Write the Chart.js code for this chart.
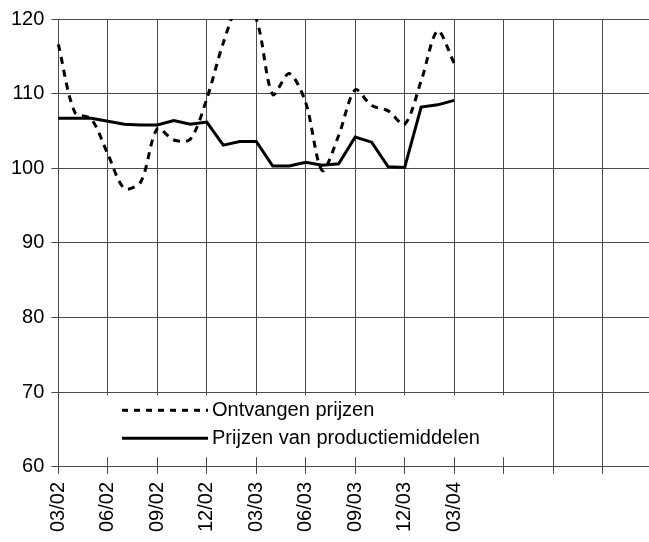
<!DOCTYPE html>
<html>
<head>
<meta charset="utf-8">
<script src="https://cdn.jsdelivr.net/npm/chart.js@4"></script>
<style>
  html, body { margin: 0; padding: 0; background: #fff; overflow: hidden; }
  #wrap { width: 649px; height: 542px; overflow: hidden; }
</style>
</head>
<body>
<div id="wrap"><canvas id="chart" width="684" height="542"></canvas></div>
<script>
/* =========================
   DATA
========================= */
const months = ["03/02","04/02","05/02","06/02","07/02","08/02","09/02","10/02","11/02","12/02",
  "01/03","02/03","03/03","04/03","05/03","06/03","07/03","08/03","09/03","10/03","11/03","12/03",
  "01/04","02/04","03/04","04/04","05/04","06/04","07/04","08/04","09/04","10/04","11/04","12/04",
  "01/05","02/05","03/05"];

const tickLabels = ["03/02","06/02","09/02","12/02","03/03","06/03","09/03","12/03","03/04"];

const ontvangen = [116.6,107.5,106.6,101.9,97.3,98.2,105.3,103.8,103.9,109.3,
  116.8,122,120,109.9,112.7,108.8,99.7,104.4,110.5,108.4,107.7,105.9,111.7,118.4,114.1];

const productiemiddelen = [106.7,106.7,106.7,106.3,105.9,105.8,105.8,106.4,105.9,106.2,
  103.1,103.6,103.6,100.3,100.3,100.8,100.4,100.6,104.2,103.5,100.2,100.1,108.2,108.5,109.1];

const seriesNames = ["Ontvangen prijzen", "Prijzen van productiemiddelen"];

/* =========================
   LEGEND IN PLOT
========================= */
const insideLegend = {
  id: "insideLegend",
  afterDatasetsDraw(chart) {
    const ctx = chart.ctx;
    const y70 = chart.scales.y.getPixelForValue(70);
    ctx.save();
    ctx.fillStyle = "#fff";
    ctx.fillRect(96, y70 + 3, 424, 62);
    ctx.strokeStyle = "#000";
    ctx.lineWidth = 3;

    ctx.setLineDash([6, 6]);
    ctx.beginPath();
    ctx.moveTo(122, y70 + 18);
    ctx.lineTo(208, y70 + 18);
    ctx.stroke();

    ctx.setLineDash([]);
    ctx.beginPath();
    ctx.moveTo(122, y70 + 46);
    ctx.lineTo(208, y70 + 46);
    ctx.stroke();

    ctx.fillStyle = "#000";
    ctx.font = "20px 'Liberation Sans', Arial, sans-serif";
    ctx.textBaseline = "middle";
    ctx.fillText(seriesNames[0], 212, y70 + 18);
    ctx.fillText(seriesNames[1], 212, y70 + 46);
    ctx.restore();
  }
};

/* =========================
   CHART
========================= */
const gridColor = "#4a4a4a";
const quarterly = c => (c.index % 3 === 0 ? gridColor : "rgba(0,0,0,0)");

new Chart(document.getElementById("chart"), {
  type: "line",
  data: {
    labels: months,
    datasets: [
      {
        label: seriesNames[0],
        data: ontvangen,
        borderColor: "#000",
        borderWidth: 3,
        borderDash: [7, 6],
        tension: 0.3,
        pointRadius: 0,
        fill: false
      },
      {
        label: seriesNames[1],
        data: productiemiddelen,
        borderColor: "#000",
        borderWidth: 3,
        tension: 0,
        pointRadius: 0,
        fill: false
      }
    ]
  },
  options: {
    responsive: false,
    animation: false,
    devicePixelRatio: 1,
    layout: { padding: { top: 2, left: 4, right: 0, bottom: 2 } },
    plugins: { legend: { display: false }, tooltip: { enabled: false } },
    scales: {
      x: {
        grid: { color: quarterly, tickColor: quarterly, tickLength: 7, lineWidth: 1 },
        border: { color: gridColor },
        ticks: {
          autoSkip: false,
          maxRotation: 90,
          minRotation: 90,
          padding: 8,
          color: "#000",
          font: { family: "'Liberation Sans', Arial, sans-serif", size: 20 },
          callback: (v, i) => (tickLabels.includes(months[i]) ? months[i] : "")
        }
      },
      y: {
        min: 60,
        max: 120,
        grid: { color: gridColor, tickColor: gridColor, tickLength: 7 },
        border: { color: gridColor },
        ticks: {
          stepSize: 10,
          padding: 7,
          color: "#000",
          font: { family: "'Liberation Sans', Arial, sans-serif", size: 20 }
        }
      }
    }
  },
  plugins: [insideLegend]
});
</script>
</body>
</html>
